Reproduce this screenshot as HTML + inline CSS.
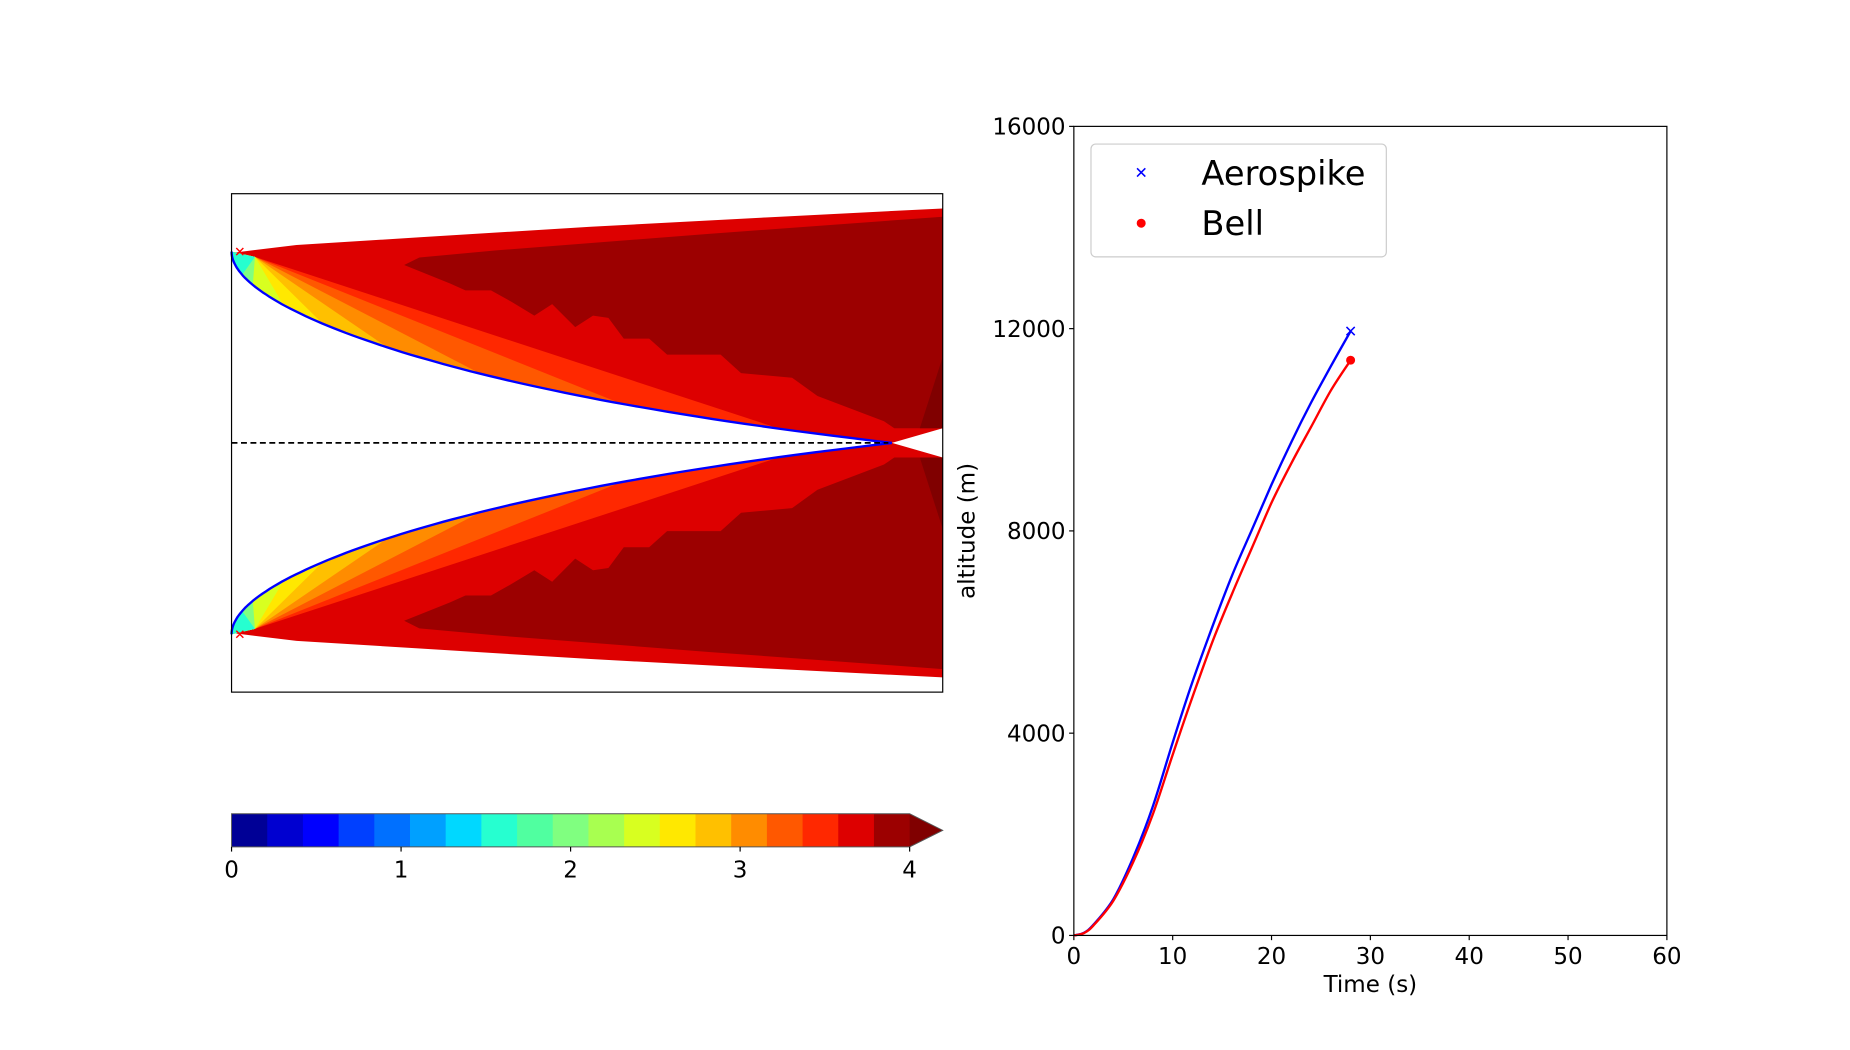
<!DOCTYPE html>
<html><head><meta charset="utf-8">
<style>
html,body{margin:0;padding:0;background:#fff;}
svg{display:block;font-family:"DejaVu Sans","Liberation Sans",sans-serif;}
</style></head>
<body>
<svg id="fig" width="1850" height="1050" viewBox="0 0 1566 889" preserveAspectRatio="none" xmlns="http://www.w3.org/2000/svg">
<rect width="1566" height="889" fill="#fff"/>
<g id="left"></g>
<g id="cbar"></g>
<g id="right"></g>
</svg>
<script>
// ---------- altitude chart data ----------
const timeValues = [0,1,2,4,6,8,10,12,14,16,18,20,22,24,26,28];
const aerospikeAlt = [0,50,216,720,1536,2556,3816,5016,6096,7116,8016,8916,9756,10536,11256,11952];
const bellAlt = [0,45,200,690,1450,2400,3576,4716,5796,6756,7656,8556,9336,10056,10776,11376];
const xTickLabels = [0,10,20,30,40,50,60];
const yTickLabels = [0,4000,8000,12000,16000];
const cbarTickLabels = [0,1,2,3,4];
const cbarColors = ["#000096","#0000d0","#0000ff","#0040ff","#0070ff","#00a0ff","#00d8ff","#26ffd0","#50ffa0","#80ff80","#a8ff50","#d8ff20","#ffe800","#ffc000","#ff8c00","#ff5800","#ff2800","#dd0000","#9c0000"];

const NS="http://www.w3.org/2000/svg";
function mk(tag, attrs, parent){const e=document.createElementNS(NS,tag);for(const k in attrs)e.setAttribute(k,attrs[k]);parent.appendChild(e);return e;}
const pts=a=>a.map(p=>p[0].toFixed(1)+","+p[1].toFixed(1)).join(" ");

// ---------- left: nozzle plume ----------
const L=document.getElementById('left');
const bx0=196,bx1=798,by0=164,by1=586,cy=375;
// smooth nozzle contour
const curve=[];
for(let i=0;i<=80;i++){const u=i/80;const p=1.95+0.55*u*u;curve.push([196+559*Math.pow(u,p),213+162*u]);}
const apex=[215.8,217.5];
function curveTo(xm){const out=[];for(let i=0;i<curve.length;i++){if(curve[i][0]<=xm)out.push(curve[i]);else{const a=curve[i-1],b=curve[i];const t=(xm-a[0])/(b[0]-a[0]);out.push([xm,a[1]+t*(b[1]-a[1])]);break;}}return out;}
const mir=a=>a.map(p=>[p[0],2*cy-p[1]]);
const outer=[[196.4,214],[205,213],[251,207.4],[355.5,200.9],[500,192],[650,184],[798,176.5]];
const darkTop=[[342.1,224.4],[355,218],[420,212],[600,198],[798,183.5]];
const darkJag=[[342.1,224.4],[381,240],[394,245.8],[415.6,245.8],[432.9,255.5],[452.3,267.2],[467.4,257.5],[486.9,277],[502,267.2],[515,269.1],[528,286.7],[549.5,286.7],[564.7,300.3],[610,300.3],[627.3,315.9],[670.5,319.8],[692,335.3],[748.3,356.7],[757,362.6],[798,362.6]];
const fans=[["#ff2800",660],["#ff5800",526],["#ff8c00",407],["#ffc000",328],["#ffe800",273],["#d8ff20",240],["#80ff80",214],["#26ffd0",205]];
[false,true].forEach(flip=>{
  const f=a=>flip?mir(a):a;
  const g=mk('g',{},L);
  
  
  const plume=outer.concat([[798,362.6]]).concat(curve.slice().reverse());
  mk('polygon',{points:pts(f(plume)),fill:"#dd0000"},g);
  fans.forEach(([c,xm])=>{const poly=[apex].concat(curveTo(xm));mk('polygon',{points:pts(f(poly)),fill:c},g);});
  const dark=darkTop.concat(darkJag.slice().reverse());
  mk('polygon',{points:pts(f(dark)),fill:"#9c0000"},g);
  mk('polygon',{points:pts(f([[778.6,362.6],[798,302.2],[798,362.6]])),fill:"#800000"},g);
  const nz=mk('polyline',{points:pts(f(curve)),fill:"none",stroke:"#0000ff","stroke-width":2,"stroke-linejoin":"round"},g);
  
  
  const lip=f([[203,213]])[0];
  const m=mk('path',{d:`M${lip[0]-3},${lip[1]-3}L${lip[0]+3},${lip[1]+3}M${lip[0]-3},${lip[1]+3}L${lip[0]+3},${lip[1]-3}`,stroke:"#ff0000","stroke-width":1.2},g);
  
  
});
const dl=mk('line',{x1:bx0,y1:cy,x2:752,y2:cy,stroke:"#000","stroke-width":1.5,"stroke-dasharray":"5,3"},L);


const lb=mk('rect',{x:bx0,y:by0,width:bx1-bx0,height:by1-by0,fill:"none",stroke:"#000","stroke-width":1},L);



// ---------- colorbar ----------
const C=document.getElementById('cbar');
const cx0=196,cx1=770,cy0=689,cy1=717;
const cw=(cx1-cx0)/cbarColors.length;
cbarColors.forEach((c,i)=>{const r=mk('rect',{x:cx0+i*cw,y:cy0,width:cw+0.6,height:cy1-cy0,fill:c},C);
  
  });
const ar=mk('polygon',{points:`${cx1},${cy0} 798,${(cy0+cy1)/2} ${cx1},${cy1}`,fill:"#800000"},C);


mk('polygon',{points:`${cx0},${cy0} ${cx1},${cy0} 798,${(cy0+cy1)/2} ${cx1},${cy1} ${cx0},${cy1}`,fill:"none",stroke:"#555","stroke-width":0.8},C);
const cmax=cbarTickLabels[cbarTickLabels.length-1];
cbarTickLabels.forEach(v=>{const x=cx0+(cx1-cx0)*v/cmax;
  mk('line',{x1:x,y1:cy1,x2:x,y2:cy1+4,stroke:"#000"},C);
  const t=mk('text',{x:x,y:cy1+26,"font-size":19.5,"text-anchor":"middle",fill:"#000"},C);t.textContent=v;
  
  });

// ---------- right chart ----------
const R=document.getElementById('right');
const ax0=909,ax1=1411,ay0=107,ay1=792;
const xMax=60,yMax=16000;
const sx=t=>ax0+(ax1-ax0)*t/xMax, sy=v=>ay1-(ay1-ay0)*v/yMax;
xTickLabels.forEach(v=>{const x=sx(v);mk('line',{x1:x,y1:ay1,x2:x,y2:ay1+4,stroke:"#000"},R);
  const t=mk('text',{x:x,y:ay1+24,"font-size":19.5,"text-anchor":"middle",fill:"#000"},R);t.textContent=v;
  
  });
yTickLabels.forEach(v=>{const y=sy(v);mk('line',{x1:ax0-4,y1:y,x2:ax0,y2:y,stroke:"#000"},R);
  const t=mk('text',{x:ax0-7,y:y+7,"font-size":19.5,"text-anchor":"end",fill:"#000"},R);t.textContent=v;
  
  });
const xl=mk('text',{x:(ax0+ax1)/2,y:840,"font-size":19.5,"text-anchor":"middle",fill:"#000"},R);xl.textContent="Time (s)";


const yl=mk('text',{x:0,y:0,"font-size":19.5,"text-anchor":"middle",fill:"#000",transform:`translate(825,${(ay0+ay1)/2}) rotate(-90)`},R);yl.textContent="altitude (m)";


function smoothPath(p){let d=`M${p[0][0]},${p[0][1]}`;
  for(let i=0;i<p.length-1;i++){const p0=p[i-1]||p[i],p1=p[i],p2=p[i+1],p3=p[i+2]||p2;
    const c1=[p1[0]+(p2[0]-p0[0])/6,p1[1]+(p2[1]-p0[1])/6],c2=[p2[0]-(p3[0]-p1[0])/6,p2[1]-(p3[1]-p1[1])/6];
    d+=` C${c1[0].toFixed(1)},${c1[1].toFixed(1)} ${c2[0].toFixed(1)},${c2[1].toFixed(1)} ${p2[0].toFixed(1)},${p2[1].toFixed(1)}`;}
  return d;}
function line(vals,color,name){const p=timeValues.map((t,i)=>[sx(t),sy(vals[i])]);
  const e=mk('path',{d:smoothPath(p),fill:"none",stroke:color,"stroke-width":2,"stroke-linejoin":"round"},R);
  
  return p[p.length-1];}
const aEnd=line(aerospikeAlt,"#0000ff","aerospike-line");
const bEnd=line(bellAlt,"#ff0000","bell-line");
const am=mk('path',{d:`M${aEnd[0]-3.5},${aEnd[1]-3.5}L${aEnd[0]+3.5},${aEnd[1]+3.5}M${aEnd[0]-3.5},${aEnd[1]+3.5}L${aEnd[0]+3.5},${aEnd[1]-3.5}`,stroke:"#0000ff","stroke-width":1.3},R);


const bm=mk('circle',{cx:bEnd[0],cy:bEnd[1],r:3.8,fill:"#ff0000"},R);


const fr=mk('rect',{x:ax0,y:ay0,width:ax1-ax0,height:ay1-ay0,fill:"none",stroke:"#000","stroke-width":1},R);


// legend
const lg=mk('g',{},R);


mk('rect',{x:923.5,y:122,width:250,height:95.5,rx:4,fill:"#fff","fill-opacity":0.8,stroke:"#cccccc","stroke-width":1},lg);
mk('path',{d:"M962.5,142.5L969.5,149.5M962.5,149.5L969.5,142.5",stroke:"#0000ff","stroke-width":1.3},lg);
mk('circle',{cx:966,cy:189,r:3.8,fill:"#ff0000"},lg);
const t1=mk('text',{x:1017,y:156.6,"font-size":28.5,fill:"#000"},lg);t1.textContent="Aerospike";


const t2=mk('text',{x:1017,y:198.9,"font-size":28.5,fill:"#000"},lg);t2.textContent="Bell";


</script>
</body></html>
